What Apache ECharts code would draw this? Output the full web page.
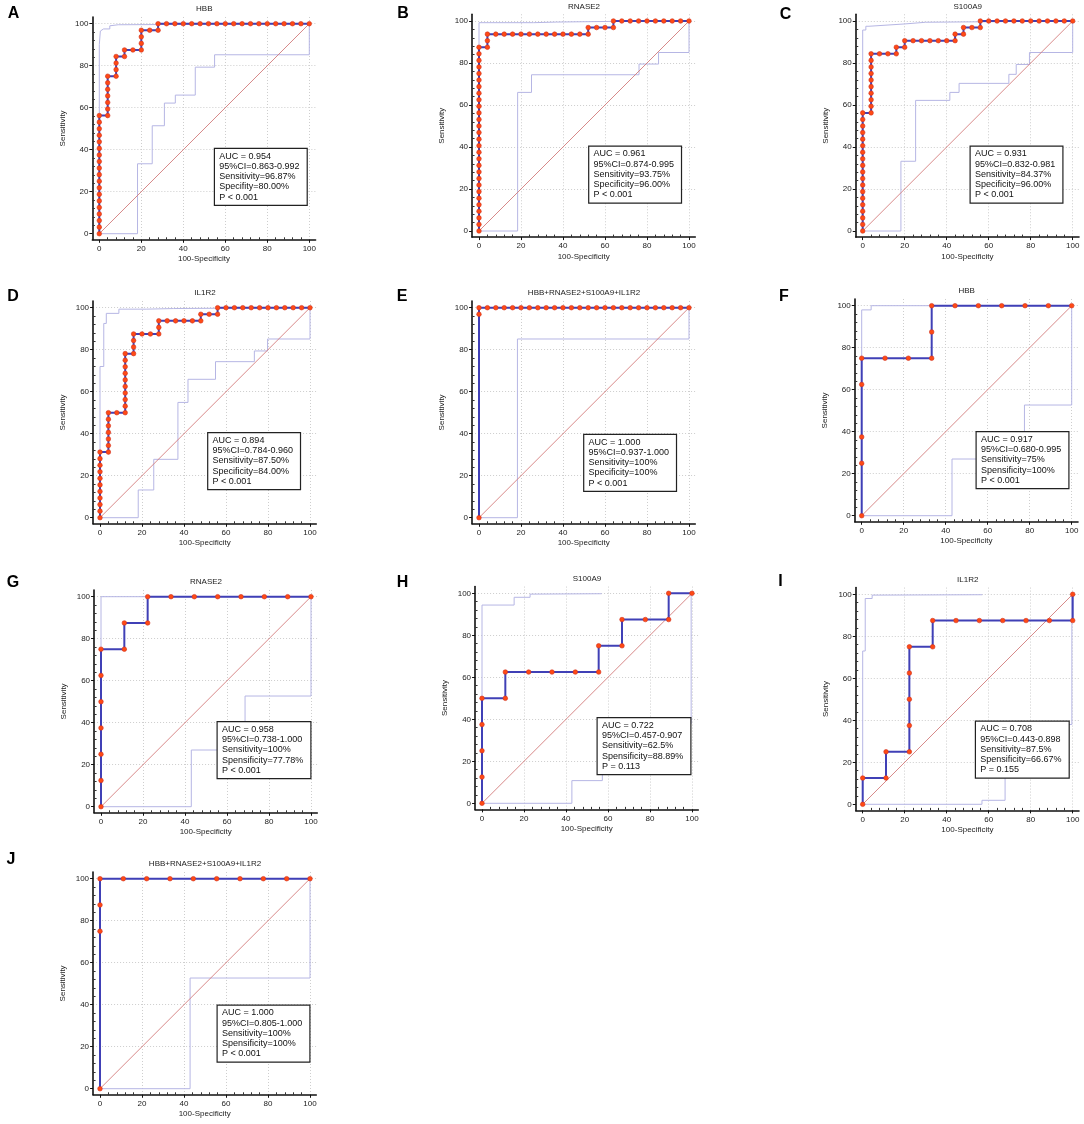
<!DOCTYPE html>
<html>
<head>
<meta charset="utf-8">
<title>ROC curves</title>
<script src="https://cdn.jsdelivr.net/npm/echarts@6/dist/echarts.min.js"></script>
<style>
  html, body { margin: 0; padding: 0; background: #fff; }
  #main { width: 1084px; height: 1124px; }
</style>
</head>
<body>
<div id="main"></div>
<script>
// ticks shared by every panel
var majorTicks = [0, 20, 40, 60, 80, 100];
var minorTicks = [4, 8, 12, 16, 24, 28, 32, 36, 44, 48, 52, 56, 64, 68, 72, 76, 84, 88, 92, 96];
var diagonal = [[0, 0], [100, 100]];

var panelLetters = ['A', 'B', 'C', 'D', 'E', 'F', 'G', 'H', 'I', 'J'];
var panelTitles = ['HBB', 'RNASE2', 'S100A9', 'IL1R2', 'HBB+RNASE2+S100A9+IL1R2',
                   'HBB', 'RNASE2', 'S100A9', 'IL1R2', 'HBB+RNASE2+S100A9+IL1R2'];

// ---- ROC curves (100-Specificity, Sensitivity) ----
var rocA = [[0,0],[0,3.13],[0,6.25],[0,9.38],[0,12.5],[0,15.63],[0,18.75],[0,21.88],[0,25],[0,28.13],[0,31.25],[0,34.38],[0,37.5],[0,40.63],[0,43.75],[0,46.88],[0,50],[0,53.13],[0,56.25],
  [4,56.25],[4,59.38],[4,62.5],[4,65.63],[4,68.75],[4,71.88],[4,75],[8,75],[8,78.13],[8,81.25],[8,84.38],[12,84.38],[12,87.5],[16,87.5],
  [20,87.5],[20,90.63],[20,93.75],[20,96.88],[24,96.88],[28,96.88],[28,100],[32,100],[36,100],[40,100],[44,100],[48,100],[52,100],[56,100],
  [60,100],[64,100],[68,100],[72,100],[76,100],[80,100],[84,100],[88,100],[92,100],[96,100],[100,100]];
var rocB = [[0,0],[0,3.13],[0,6.25],[0,9.38],[0,12.5],[0,15.63],[0,18.75],[0,21.88],[0,25],[0,28.13],[0,31.25],[0,34.38],[0,37.5],[0,40.63],[0,43.75],[0,46.88],[0,50],[0,53.13],[0,56.25],[0,59.38],[0,62.5],[0,65.63],[0,68.75],[0,71.88],[0,75],[0,78.13],[0,81.25],[0,84.38],[0,87.5],
  [4,87.5],[4,90.63],[4,93.75],[8,93.75],[12,93.75],[16,93.75],[20,93.75],[24,93.75],[28,93.75],[32,93.75],[36,93.75],[40,93.75],[44,93.75],[48,93.75],[52,93.75],
  [52,96.88],[56,96.88],[60,96.88],[64,96.88],[64,100],[68,100],[72,100],[76,100],[80,100],[84,100],[88,100],[92,100],[96,100],[100,100]];
var rocC = [[0,0],[0,3.13],[0,6.25],[0,9.38],[0,12.5],[0,15.63],[0,18.75],[0,21.88],[0,25],[0,28.13],[0,31.25],[0,34.38],[0,37.5],[0,40.63],[0,43.75],[0,46.88],[0,50],[0,53.13],[0,56.25],
  [4,56.25],[4,59.38],[4,62.5],[4,65.63],[4,68.75],[4,71.88],[4,75],[4,78.13],[4,81.25],[4,84.38],[8,84.38],[12,84.38],[16,84.38],[16,87.5],[20,87.5],[20,90.63],
  [24,90.63],[28,90.63],[32,90.63],[36,90.63],[40,90.63],[44,90.63],[44,93.75],[48,93.75],[48,96.88],[52,96.88],[56,96.88],[56,100],
  [60,100],[64,100],[68,100],[72,100],[76,100],[80,100],[84,100],[88,100],[92,100],[96,100],[100,100]];
var rocD = [[0,0],[0,3.13],[0,6.25],[0,9.38],[0,12.5],[0,15.63],[0,18.75],[0,21.88],[0,25],[0,28.13],[0,31.25],
  [4,31.25],[4,34.38],[4,37.5],[4,40.63],[4,43.75],[4,46.88],[4,50],[8,50],[12,50],[12,53.13],[12,56.25],[12,59.38],[12,62.5],[12,65.63],[12,68.75],[12,71.88],[12,75],[12,78.13],
  [16,78.13],[16,81.25],[16,84.38],[16,87.5],[20,87.5],[24,87.5],[28,87.5],[28,90.63],[28,93.75],[32,93.75],[36,93.75],[40,93.75],[44,93.75],[48,93.75],
  [48,96.88],[52,96.88],[56,96.88],[56,100],[60,100],[64,100],[68,100],[72,100],[76,100],[80,100],[84,100],[88,100],[92,100],[96,100],[100,100]];
var rocE = [[0,0],[0,96.88],[0,100],[4,100],[8,100],[12,100],[16,100],[20,100],[24,100],[28,100],[32,100],[36,100],[40,100],[44,100],[48,100],[52,100],
  [56,100],[60,100],[64,100],[68,100],[72,100],[76,100],[80,100],[84,100],[88,100],[92,100],[96,100],[100,100]];
var rocF = [[0,0],[0,25],[0,37.5],[0,62.5],[0,75],[11.11,75],[22.22,75],[33.33,75],[33.33,87.5],[33.33,100],[44.44,100],[55.56,100],[66.67,100],[77.78,100],[88.89,100],[100,100]];
var rocG = [[0,0],[0,12.5],[0,25],[0,37.5],[0,50],[0,62.5],[0,75],[11.11,75],[11.11,87.5],[22.22,87.5],[22.22,100],[33.33,100],[44.44,100],[55.56,100],[66.67,100],[77.78,100],[88.89,100],[100,100]];
var rocH = [[0,0],[0,12.5],[0,25],[0,37.5],[0,50],[11.11,50],[11.11,62.5],[22.22,62.5],[33.33,62.5],[44.44,62.5],[55.56,62.5],[55.56,75],[66.67,75],[66.67,87.5],[77.78,87.5],[88.89,87.5],[88.89,100],[100,100]];
var rocI = [[0,0],[0,12.5],[11.11,12.5],[11.11,25],[22.22,25],[22.22,37.5],[22.22,50],[22.22,62.5],[22.22,75],[33.33,75],[33.33,87.5],[44.44,87.5],[55.56,87.5],[66.67,87.5],[77.78,87.5],[88.89,87.5],[100,87.5],[100,100]];
var rocJ = [[0,0],[0,75],[0,87.5],[0,100],[11.11,100],[22.22,100],[33.33,100],[44.44,100],[55.56,100],[66.67,100],[77.78,100],[88.89,100],[100,100]];

// ---- 95% confidence bounds ----
var upperA = [[0,0],[0,90],[0.5,96.5],[2,97.5],[5,97.5],[5,99],[9,99.5],[9,100],[100,100]];
var lowerA = [[0,0],[18.2,0],[18.2,33.3],[25.2,33.3],[25.2,51.4],[31,51.4],[31,62.2],[36.2,62.2],[36.2,66],[45.7,66],[45.7,79.3],[54.9,79.3],[54.9,85.2],[100,85.2],[100,100]];
var upperB = [[0,0],[0,99.2],[26,99.2],[26,99.5],[37,99.5],[37,99.8],[63,99.8],[63,100],[100,100]];
var lowerB = [[0,0],[18.4,0],[18.4,66],[25,66],[25,74.4],[76.2,74.4],[76.2,79.5],[85.5,79.5],[85.5,85],[100,85],[100,100]];
var upperC = [[0,0],[0,95.7],[1.5,95.7],[1.5,97.5],[3,97.5],[3,98.3],[20,98.6],[20,99.2],[30,99.4],[30,100],[100,100]];
var lowerC = [[0,0],[18.2,0],[18.2,33.2],[25.2,33.2],[25.2,62.2],[41.5,62.2],[41.5,66],[45.9,66],[45.9,70.3],[69.6,70.3],[69.6,74.6],[73.1,74.6],[73.1,79.3],[79.4,79.3],[79.4,85],[100,85],[100,100]];
var upperD = [[0,0],[0,72],[1.8,72],[1.8,92.5],[3,92.5],[3,97.3],[9,97.3],[9,99.3],[22,99.3],[22,99.6],[35,99.6],[35,100],[100,100]];
var lowerD = [[0,0],[18.2,0],[18.2,13.2],[25.6,13.2],[25.6,27.8],[37.1,27.8],[37.1,54.9],[41.9,54.9],[41.9,65.9],[55,65.9],[55,74.3],[73.5,74.3],[73.5,79.4],[79.8,79.4],[79.8,85.1],[100,85.1],[100,100]];
var upperE = [[0,0],[0,100],[100,100]];
var lowerE = [[0,0],[18.3,0],[18.3,85.1],[100,85.1],[100,100]];
var upperF = [[0,0],[0,98],[4.5,98],[4.5,100],[100,100]];
var lowerF = [[0,0],[43,0],[43,27],[77.5,27],[77.5,52.7],[100,52.7],[100,100]];
var upperG = [[0,0],[0,100],[100,100]];
var lowerG = [[0,0],[43,0],[43,27],[68.6,27],[68.6,52.7],[100,52.7],[100,100]];
var upperH = [[0,0],[0,94.4],[15.3,94.4],[15.3,98.1],[22.9,98.1],[22.9,99.6],[57,99.8]];
var lowerH = [[0,0],[42.8,0],[42.8,10.8],[57.3,10.8],[57.3,38],[99.6,38],[99.6,100]];
var upperI = [[0,0],[0,73],[1.2,73],[1.2,98],[4.5,98],[4.5,99.6],[57,99.8]];
var lowerI = [[0,0],[56.8,0],[56.8,1.9],[67.8,1.9],[67.8,38],[99.6,38],[99.6,100]];
var upperJ = [[0,0],[0,100],[100,100]];
var lowerJ = [[0,0],[42.9,0],[42.9,52.7],[100,52.7],[100,100]];

// ---- statistics boxes ----
var statsA = ['AUC = 0.954', '95%CI=0.863-0.992', 'Sensitivity=96.87%', 'Specifity=80.00%', 'P < 0.001'];
var statsB = ['AUC = 0.961', '95%CI=0.874-0.995', 'Sensitivity=93.75%', 'Specificity=96.00%', 'P < 0.001'];
var statsC = ['AUC = 0.931', '95%CI=0.832-0.981', 'Sensitivity=84.37%', 'Specificity=96.00%', 'P < 0.001'];
var statsD = ['AUC = 0.894', '95%CI=0.784-0.960', 'Sensitivity=87.50%', 'Specificity=84.00%', 'P < 0.001'];
var statsE = ['AUC = 1.000', '95%CI=0.937-1.000', 'Sensitivity=100%', 'Specificity=100%', 'P < 0.001'];
var statsF = ['AUC = 0.917', '95%CI=0.680-0.995', 'Sensitivity=75%', 'Spensificity=100%', 'P < 0.001'];
var statsG = ['AUC = 0.958', '95%CI=0.738-1.000', 'Sensitivity=100%', 'Spensificity=77.78%', 'P < 0.001'];
var statsH = ['AUC = 0.722', '95%CI=0.457-0.907', 'Sensitivity=62.5%', 'Spensificity=88.89%', 'P = 0.113'];
var statsI = ['AUC = 0.708', '95%CI=0.443-0.898', 'Sensitivity=87.5%', 'Spensificity=66.67%', 'P = 0.155'];
var statsJ = ['AUC = 1.000', '95%CI=0.805-1.000', 'Sensitivity=100%', 'Spensificity=100%', 'P < 0.001'];

var rocs = [rocA, rocB, rocC, rocD, rocE, rocF, rocG, rocH, rocI, rocJ];
var uppers = [upperA, upperB, upperC, upperD, upperE, upperF, upperG, upperH, upperI, upperJ];
var lowers = [lowerA, lowerB, lowerC, lowerD, lowerE, lowerF, lowerG, lowerH, lowerI, lowerJ];
var stats = [statsA, statsB, statsC, statsD, statsE, statsF, statsG, statsH, statsI, statsJ];

// page layout: pixel of x=0, pixel of y=100, stats box left/top, letter centre x/y
var layout = [
  [99.3, 23.7, 215, 149, 13.5, 14],
  [479, 21, 589.3, 146.7, 403, 14],
  [862.7, 21, 970.7, 146.7, 785.5, 14.5],
  [100, 307.7, 208.3, 433.3, 13, 296.7],
  [479, 307.7, 584.3, 435, 402, 296.7],
  [861.7, 305.7, 976.7, 432.3, 784, 296.7],
  [101, 596.7, 217.7, 722.3, 13, 582.5],
  [482, 593.3, 597.7, 718.3, 402.5, 582.5],
  [862.7, 594.3, 976, 721.7, 780.5, 582],
  [100, 878.7, 217.7, 1005.7, 11, 860]
];

var K = 2.1;                 // px per unit
var X_MIN = -3.3, X_MAX = 103, Y_MIN = -2.9, Y_MAX = 103.2;
var FONT = '"Liberation Sans", Arial, sans-serif';
var CURVE = '#4040b6', DOT = '#ff4a14', DOT_EDGE = '#d03020', BAND = '#b6b6e4', DIAG = '#d27c7c';

var grids = [], xAxes = [], yAxes = [], series = [], graphics = [];

function mainAxis(dim, i) {
  var isX = dim === 'x';
  return {
    gridIndex: i, type: 'value', position: isX ? 'bottom' : 'left',
    min: isX ? X_MIN : Y_MIN, max: isX ? X_MAX : Y_MAX,
    name: isX ? '100-Specificity' : 'Sensitivity',
    nameLocation: 'middle', nameGap: isX ? 15.5 : 26,
    nameTextStyle: { fontSize: 8, color: '#222', fontFamily: FONT },
    axisLine: { onZero: false, lineStyle: { color: '#111', width: 1.6 } },
    axisTick: { customValues: majorTicks, length: 3, lineStyle: { color: '#111', width: 1 } },
    axisLabel: { customValues: majorTicks, fontSize: 8, color: '#222', margin: isX ? 5 : 4, fontFamily: FONT },
    splitLine: { show: true, showMinLine: false, lineStyle: { color: '#cdcdcd', width: 1, type: [1, 2] } }
  };
}

function minorAxis(dim, i) {
  var isX = dim === 'x';
  return {
    gridIndex: i, type: 'value', position: isX ? 'bottom' : 'left',
    min: isX ? X_MIN : Y_MIN, max: isX ? X_MAX : Y_MAX,
    axisLine: { show: false, onZero: false },
    axisTick: { customValues: minorTicks, inside: true, length: 2.5, lineStyle: { color: '#333', width: 1 } },
    axisLabel: { show: false },
    splitLine: { show: false }
  };
}

for (var i = 0; i < rocs.length; i++) {
  var L = layout[i];
  var x0 = L[0], y100 = L[1];
  grids.push({
    left: x0 + X_MIN * K, top: y100 - (Y_MAX - 100) * K,
    width: (X_MAX - X_MIN) * K, height: (Y_MAX - Y_MIN) * K
  });
  xAxes.push(mainAxis('x', i), minorAxis('x', i));
  yAxes.push(mainAxis('y', i), minorAxis('y', i));

  var ax = { xAxisIndex: 2 * i, yAxisIndex: 2 * i };
  series.push(Object.assign({
    type: 'line', data: uppers[i], symbol: 'none', silent: true, clip: false, z: 2,
    lineStyle: { color: BAND, width: 1 }
  }, ax));
  series.push(Object.assign({
    type: 'line', data: lowers[i], symbol: 'none', silent: true, clip: false, z: 2,
    lineStyle: { color: BAND, width: 1 }
  }, ax));
  series.push(Object.assign({
    type: 'line', data: diagonal, symbol: 'none', silent: true, clip: false, z: 3,
    lineStyle: { color: DIAG, width: 0.9 }
  }, ax));
  series.push(Object.assign({
    type: 'line', data: rocs[i], symbol: 'circle', symbolSize: 4.6, showAllSymbol: true,
    clip: false, z: 4,
    lineStyle: { color: CURVE, width: 2 },
    itemStyle: { color: DOT, borderColor: DOT_EDGE, borderWidth: 0.6 }
  }, ax));

  graphics.push({
    type: 'text', x: L[4], y: L[5], z: 100,
    style: { text: panelLetters[i], fontSize: 16, fontWeight: 'bold', fontFamily: FONT,
             fill: '#000', align: 'center', verticalAlign: 'middle' }
  });
  graphics.push({
    type: 'text', x: x0 + 50 * K, y: y100 - 14.5, z: 100,
    style: { text: panelTitles[i], fontSize: 8, fontFamily: FONT, fill: '#222',
             align: 'center', verticalAlign: 'middle' }
  });
  graphics.push({
    type: 'text', x: L[2], y: L[3], z: 100,
    style: { text: stats[i].join('\n'), fontSize: 9, fontFamily: FONT, fill: '#111',
             lineHeight: 10.25, backgroundColor: '#fff', borderColor: '#222', borderWidth: 1.2,
             padding: [2, 7, 2.5, 4.3] }
  });
}

var chart = echarts.init(document.getElementById('main'), null, { renderer: 'canvas' });
chart.setOption({
  animation: false,
  backgroundColor: '#fff',
  grid: grids,
  xAxis: xAxes,
  yAxis: yAxes,
  series: series,
  graphic: graphics
});
window.addEventListener('resize', chart.resize);
</script>
</body>
</html>
